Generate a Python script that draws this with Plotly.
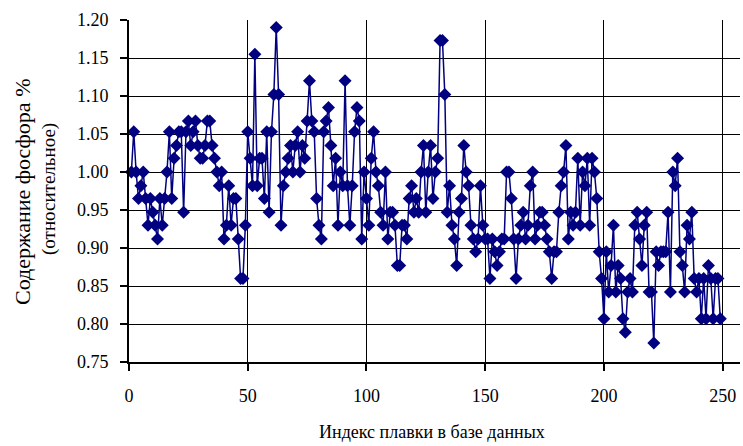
import plotly.graph_objects as go

phosphorus = [
    1.000, 1.053, 1.000, 0.965, 0.982, 1.000, 0.965, 0.930, 0.965, 0.947,
    0.930, 0.912, 0.965, 0.930, 0.965, 1.000, 1.053, 0.965, 1.018, 1.035,
    1.053, 1.053, 0.947, 1.053, 1.067, 1.035, 1.053, 1.067, 1.035, 1.018,
    1.018, 1.035, 1.067, 1.067, 1.035, 1.018, 1.000, 0.982, 1.000, 0.912,
    0.930, 0.982, 0.930, 0.965, 0.965, 0.912, 0.860, 0.860, 0.930, 1.053,
    1.018, 0.982, 1.155, 0.982, 1.018, 1.018, 0.965, 1.053, 0.947, 1.053,
    1.102, 1.190, 1.102, 0.930, 0.982, 1.000, 1.018, 1.035, 1.000, 1.035,
    1.053, 1.000, 1.035, 1.018, 1.067, 1.120, 1.067, 1.053, 0.965, 0.930,
    0.912, 1.053, 1.067, 1.085, 1.035, 0.982, 1.018, 0.930, 1.000, 0.982,
    1.120, 0.982, 0.930, 0.982, 1.053, 1.085, 1.067, 0.912, 1.000, 0.965,
    0.930, 1.018, 1.053, 1.000, 0.982, 0.947, 0.930, 1.000, 0.912, 0.947,
    0.947, 0.930, 0.877, 0.877, 0.930, 0.930, 0.912, 0.965, 0.982, 0.947,
    0.965, 0.947, 1.000, 1.035, 0.947, 1.000, 1.035, 0.965, 1.000, 1.018,
    1.173, 1.173, 1.102, 0.947, 0.982, 0.930, 0.912, 0.877, 0.947, 0.965,
    1.035, 1.000, 0.982, 0.930, 0.912, 0.895, 0.912, 0.982, 0.930, 0.912,
    0.912, 0.860, 0.912, 0.895, 0.877, 0.895, 0.912, 0.912, 1.000, 1.000,
    0.965, 0.912, 0.860, 0.912, 0.930, 0.947, 0.912, 0.930, 0.982, 1.000,
    0.912, 0.930, 0.947, 0.947, 0.930, 0.912, 0.895, 0.860, 0.895, 0.895,
    0.947, 0.982, 1.000, 1.035, 0.912, 0.947, 0.930, 0.947, 1.018, 0.930,
    1.000, 0.982, 1.018, 0.930, 1.018, 1.000, 0.965, 0.895, 0.860, 0.807,
    0.895, 0.842, 0.877, 0.930, 0.842, 0.877, 0.860, 0.807, 0.789, 0.842,
    0.860, 0.842, 0.930, 0.947, 0.912, 0.877, 0.930, 0.947, 0.842, 0.842,
    0.775, 0.895, 0.877, 0.895, 0.895, 0.895, 0.947, 0.842, 1.000, 0.982,
    1.018, 0.895, 0.877, 0.842, 0.930, 0.912, 0.947, 0.860, 0.842, 0.860,
    0.807, 0.860, 0.807, 0.877, 0.860, 0.807, 0.860, 0.860, 0.807,
]
heat_index = list(range(1, len(phosphorus) + 1))

x_ticks = [0, 50, 100, 150, 200, 250]
y_ticks = [0.75, 0.80, 0.85, 0.90, 0.95, 1.00, 1.05, 1.10, 1.15, 1.20]
y_tick_text = [f"{v:.2f}" for v in y_ticks]

x_title = "Индекс плавки в базе данных"
y_title_1 = "Содержание фосфора %"
y_title_2 = "(относительное)"

navy = "#000080"
font_family = "serif"
fs = 18

W, H = 743, 446
L, R, T, B = 129, 3, 20, 84

fig = go.Figure()
fig.add_trace(go.Scatter(
    x=heat_index, y=phosphorus, mode="lines+markers",
    line=dict(color=navy, width=1.5),
    marker=dict(symbol="diamond", size=10, color=navy, line=dict(width=0)),
    cliponaxis=False, showlegend=False,
))

pw = W - L - R
ph = H - T - B


def px_to_paper(xp, yp):
    return (xp - L) / pw, (H - yp - B) / ph


ax, ay = px_to_paper(432, 432)
t1x, t1y = px_to_paper(22, 192)
t2x, t2y = px_to_paper(49, 189)

fig.update_layout(
    width=W, height=H,
    margin=dict(l=L, r=R, t=T, b=B, autoexpand=False),
    paper_bgcolor="white", plot_bgcolor="white",
    font=dict(family=font_family, size=fs, color="black"),
    xaxis=dict(
        range=[0, 257.3], tickvals=x_ticks, ticks="outside", ticklen=7,
        tickwidth=1.5, tickcolor="black", showline=True, linecolor="black",
        linewidth=2, showgrid=True, gridcolor="black", gridwidth=1,
        zeroline=False, ticklabelstandoff=9, automargin=False,
    ),
    yaxis=dict(
        range=[0.75, 1.20], tickvals=y_ticks, ticktext=y_tick_text,
        ticks="outside", ticklen=7, tickwidth=1.5, tickcolor="black",
        showline=True, linecolor="black", linewidth=2,
        showgrid=True, gridcolor="black", gridwidth=1, zeroline=False,
        ticklabelstandoff=8, automargin=False,
    ),
    annotations=[
        dict(text=x_title, x=ax, y=ay, xref="paper", yref="paper",
             showarrow=False, xanchor="center", yanchor="middle",
             font=dict(size=18)),
        dict(text=y_title_1, x=t1x, y=t1y, xref="paper", yref="paper",
             showarrow=False, textangle=-90, xanchor="center", yanchor="middle",
             font=dict(size=22)),
        dict(text=y_title_2, x=t2x, y=t2y, xref="paper", yref="paper",
             showarrow=False, textangle=-90, xanchor="center", yanchor="middle",
             font=dict(size=19)),
    ],
)

fig.write_html("out.html", config={"displayModeBar": False},
               post_script="document.body.style.margin='0px';")
